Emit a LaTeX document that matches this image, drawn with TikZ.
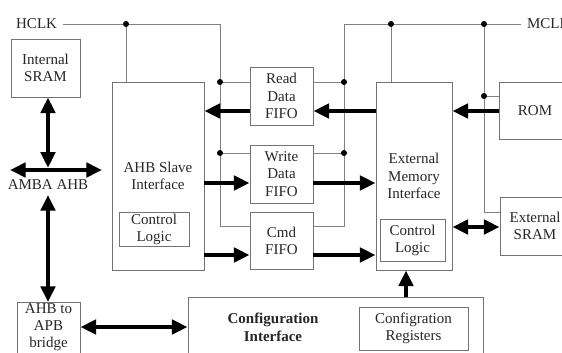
\documentclass[tikz,border=0pt]{standalone}
\usepackage{fontspec}
\setmainfont{Liberation Serif}
\usetikzlibrary{arrows.meta}
\begin{document}
\begin{tikzpicture}[x=0.7pt,y=-0.7pt,
  font=\fontsize{10.5}{12}\selectfont,
  blk/.style={draw=black!55,line width=0.6pt,align=center,inner sep=1pt,text=black!85},
  wire/.style={draw=black!50,line width=0.6pt},
  bus/.style={line width=3pt,-{Triangle[length=11pt,width=10pt]}},
  dbus/.style={line width=3pt,{Triangle[length=11pt,width=10pt]}-{Triangle[length=11pt,width=10pt]}}]
\useasboundingbox (0,0) rectangle (562,352);
\clip (0,0) rectangle (562,352);
% blocks
\node[blk,minimum width=48.3pt,minimum height=40.6pt] (isram) at (45.5,68) {Internal\\SRAM};
\node[blk,minimum width=64.4pt,minimum height=131.6pt] (ahb) at (158,176) {AHB Slave\\Interface};
\node[blk,minimum width=49pt,minimum height=23.8pt] (actl) at (154,229) {Control\\Logic};
\node[blk,minimum width=44.1pt,minimum height=40.6pt] (rd) at (281.5,96) {Read\\Data\\FIFO};
\node[blk,minimum width=44.1pt,minimum height=40.6pt] (wr) at (281.5,174) {Write\\Data\\FIFO};
\node[blk,minimum width=44.1pt,minimum height=40pt] (cmd) at (281.5,240.5) {Cmd\\FIFO};
\node[blk,minimum width=53.2pt,minimum height=131.6pt] (emi) at (414,176) {External\\Memory\\Interface};
\node[blk,minimum width=45.5pt,minimum height=29.4pt] (ectl) at (412.5,240) {Control\\Logic};
\node[blk,minimum width=50.4pt,minimum height=40pt] (rom) at (535,110.5) {ROM};
\node[blk,minimum width=49pt,minimum height=40.6pt] (esram) at (535,226) {External\\SRAM};
\node[blk,anchor=north,minimum width=44.1pt,inner ysep=0.5pt,text depth=10pt] (bridge) at (48.5,302) {AHB to\\APB\\bridge};
\node[blk,minimum width=206.5pt,minimum height=60pt] (cfg) at (335.5,340) {};
\node[align=center,text=black!85,font=\fontsize{10.5}{12.6}\selectfont\bfseries] (cfgtxt) at (273,327) {Configuration\\Interface};
\node[blk,minimum width=76.3pt,minimum height=30pt] (reg) at (413.5,328.5) {Configration\\Registers};
\node[text=black!85] (amba) at (48,185) {AMBA AHB};
\node[anchor=east,inner xsep=4pt,text=black!85] (hclk) at (63,24) {HCLK};
\node[anchor=west,inner xsep=4pt,text=black!85] (mclk) at (521,24) {MCLK};
% clock wires
\coordinate (hl) at (220,226);
\coordinate (ml) at (344,226);
\coordinate (h1) at (126,24);
\coordinate (h2) at (220,82);
\coordinate (h3) at (220,153);
\coordinate (m1) at (391,24);
\coordinate (m2) at (484,24);
\coordinate (m3) at (344,82);
\coordinate (m4) at (344,153);
\coordinate (m5) at (484,96);
\coordinate (m6) at (484,212);
\draw[wire] (hclk.east) -| (hl) -- (hl -| cmd.west);
\draw[wire] (h1) -- (h1 |- ahb.north);
\draw[wire] (h2) -- (h2 -| rd.west);
\draw[wire] (h3) -- (h3 -| wr.west);
\draw[wire] (mclk.west) -| (ml) -- (ml -| cmd.east);
\draw[wire] (m1) -- (m1 |- emi.north);
\draw[wire] (m2) -- (m6) -- (m6 -| esram.west);
\draw[wire] (m3) -- (m3 -| rd.east);
\draw[wire] (m4) -- (m4 -| wr.east);
\draw[wire] (m5) -- (m5 -| rom.west);
\foreach \p in {h1,h2,h3,m1,m2,m3,m4,m5}
  \fill (\p) circle (2.1pt);
% data paths
\coordinate (yr) at (0,111);
\coordinate (yw) at (0,183);
\coordinate (yc) at (0,255);
\coordinate (ys) at (0,227);
\coordinate (yb) at (0,327);
\coordinate (xu) at (406,0);
\coordinate (xa) at (48,0);
\coordinate (busl) at (10,170);
\coordinate (busr) at (102,170);
\draw[bus] (rd.west |- yr) -- (ahb.east |- yr);
\draw[bus] (emi.west |- yr) -- (rd.east |- yr);
\draw[bus] (rom.west |- yr) -- (emi.east |- yr);
\draw[bus] (ahb.east |- yw) -- (wr.west |- yw);
\draw[bus] (wr.east |- yw) -- (emi.west |- yw);
\draw[bus] (ahb.east |- yc) -- (cmd.west |- yc);
\draw[bus] (cmd.east |- yc) -- (emi.west |- yc);
\draw[dbus] (emi.east |- ys) -- (esram.west |- ys);
\draw[bus] (cfg.north -| xu) -- (emi.south -| xu);
\draw[dbus] (bridge.east |- yb) -- (cfg.west |- yb);
\draw[dbus] (busl) -- (busr);
\draw[dbus,shorten >=1.5pt] (isram.south -| xa) -- (xa |- busl);
\draw[dbus] (amba.south -| xa) -- (xa |- bridge.north);
\end{tikzpicture}
\end{document}
